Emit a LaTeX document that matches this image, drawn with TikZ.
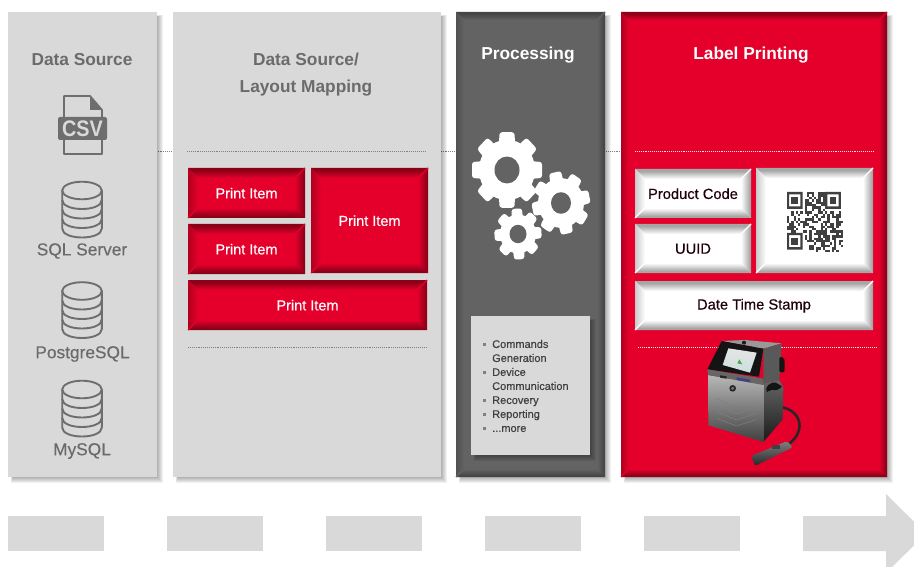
\documentclass[tikz,border=0pt]{standalone}
\usepackage{fontspec}
\setmainfont{Liberation Sans}[UprightFeatures={FakeBold=0.4}]
\usetikzlibrary{calc}
\definecolor{panelgray}{HTML}{D9D9D9}
\definecolor{labelgray}{HTML}{6B6B6B}
\definecolor{iconlinegray}{HTML}{6E6E6E}
\definecolor{brandred}{HTML}{E4002B}
\definecolor{darkred}{HTML}{8C0018}
\definecolor{procgray}{HTML}{636363}
\definecolor{procdark}{HTML}{454545}
\definecolor{bevelwhite}{HTML}{A6A6A6}
\definecolor{inkdark}{HTML}{1E0008}
\colorlet{bevE}{darkred}
\colorlet{bevB}{brandred}
\colorlet{bevS}{brandred}
\pgfdeclareverticalshading[bevE,bevB]{bevtop}{100bp}{color(0bp)=(bevB);color(25bp)=(bevB);color(65bp)=(bevE);color(100bp)=(bevE)}
\pgfdeclareverticalshading[bevE,bevB]{bevbot}{100bp}{color(0bp)=(bevE);color(35bp)=(bevE);color(75bp)=(bevB);color(100bp)=(bevB)}
\pgfdeclarehorizontalshading[bevE,bevB]{bevright}{100bp}{color(0bp)=(bevB);color(25bp)=(bevB);color(70bp)=(bevE);color(100bp)=(bevE)}
\pgfdeclarehorizontalshading[bevS,bevB]{bevleft}{100bp}{color(0bp)=(bevS);color(25bp)=(bevS);color(75bp)=(bevB);color(100bp)=(bevB)}
\tikzset{
  titletext/.style={font=\fontsize{17.3}{27}\selectfont\bfseries,align=center,inner sep=0pt},
  srclabel/.style={font=\fontsize{17.3}{20}\selectfont,text=labelgray,inner sep=0pt},
  itemtext/.style={font=\fontsize{14.5}{17}\selectfont,text=white,inner sep=0pt},
  fieldtext/.style={font=\fontsize{14.7}{17}\selectfont,text=inkdark,inner sep=0pt},
  rulegray/.style={draw=black!50,line width=.8pt,dash pattern=on .9pt off 1pt},
  rulewhite/.style={draw=white!90!brandred,line width=.8pt,dash pattern=on .9pt off 1pt},
  dbline/.style={draw=iconlinegray,line width=1.9pt},
  flow/.style={fill=panelgray,draw=none},
}
% soft shadow falling right and down
\newcommand{\softshadow}[4]{%
  \foreach \s in {0,1,2,3,4,5}{%
    \fill[black,opacity=.055] ({#1+3+\s*.3},{#2+3+\s*.3}) rectangle ({#3+6-\s},{#4+6-\s});
  }}
% bevelled fill: x0 y0 x1 y1 edge base depth
\newcommand{\bevelfill}[7]{%
  \colorlet{bevE}{#5}\colorlet{bevB}{#6}\colorlet{bevS}{#5!60!#6}%
  \fill[#6] (#1,#2) rectangle (#3,#4);
  \shade[shading=bevtop] (#1,#2)--(#3,#2)--({#3-#7},{#2+#7})--({#1+#7},{#2+#7})--cycle;
  \shade[shading=bevbot] (#1,#4)--(#3,#4)--({#3-#7},{#4-#7})--({#1+#7},{#4-#7})--cycle;
  \shade[shading=bevright] (#3,#2)--(#3,#4)--({#3-#7},{#4-#7})--({#3-#7},{#2+#7})--cycle;
  \shade[shading=bevleft] (#1,#2)--(#1,#4)--({#1+#7},{#4-#7})--({#1+#7},{#2+#7})--cycle;
  \draw[#6,line width=1.2pt] (#3,#2)--({#3-#7},{#2+#7});
  \draw[#6,line width=1.2pt] (#1,#4)--({#1+#7},{#4-#7});
}
\newcommand{\itembox}[6]{%
  \bevelfill{#2}{#3}{#4}{#5}{darkred}{brandred}{10}
  \node[itemtext] (#1) at ({(#2+#4)/2},{(#3+#5)/2+.2}) {#6};
}
\newcommand{\fieldbox}[6]{%
  \bevelfill{#2}{#3}{#4}{#5}{bevelwhite}{white}{10}
  \node[fieldtext] (#1) at ({(#2+#4)/2},{(#3+#5)/2+.2}) {#6};
}
\newcommand{\dbicon}[1]{%
  \draw[dbline] (82,{#1+9.5}) ellipse[x radius=19.8pt,y radius=8.8pt];
  \draw[dbline] (62.2,{#1+9.5}) -- (62.2,{#1+47.5}) .. controls (62.2,{#1+59.5}) and (101.8,{#1+59.5}) .. (101.8,{#1+47.5}) -- (101.8,{#1+9.5});
  \foreach \k in {0,9.5,19}{%
    \draw[dbline] (62.2,{#1+9.5+\k+9.5}) .. controls (62.2,{#1+9.5+\k+21.5}) and (101.8,{#1+9.5+\k+21.5}) .. (101.8,{#1+9.5+\k+9.5});
  }}
% gear: cx cy outer body hole toothwidth rotation
\newcommand{\gearicon}[7]{%
  \begin{scope}[shift={(#1,#2)},yscale=1.08]
  \foreach \k in {0,...,7}{%
    \fill[white,rounded corners=2.5pt,rotate=\k*45+#7]
      ({-#6*.62},0) -- ({-#6*.46},{-#3}) -- ({#6*.46},{-#3}) -- ({#6*.62},0) -- cycle;
  }
  \fill[white] (0,0) circle[radius=#4 pt];
  \fill[procgray] (0,0) circle[radius=#5 pt];
  \end{scope}
}
\begin{document}
\begin{tikzpicture}[x=1pt,y=-1pt]
\useasboundingbox (0,0) rectangle (914,567);
\clip (0,0) rectangle (914,567);
\fill[white] (0,0) rectangle (914,567);

% rule running behind the panels
\coordinate (ruleA) at (150,151);
\coordinate (ruleB) at (628,151);
\draw[rulegray] (ruleA) -- (ruleB);

% panels
\softshadow{8}{12}{157}{477}
\softshadow{173}{12}{441}{477}
\softshadow{456}{12}{605}{477}
\softshadow{621}{12}{887}{477}
\fill[panelgray] (8,12) rectangle (157,477);
\fill[panelgray] (173,12) rectangle (441,477);
\bevelfill{456}{12}{605}{477}{procdark}{procgray}{8}
\bevelfill{621}{12}{887}{477}{darkred}{brandred}{8}

% titles
\node[titletext,text=labelgray] (t1) at (82,60) {Data Source};
\node[titletext,text=labelgray] (t2) at (306,74.5) {Data Source/\\Layout Mapping};
\node[titletext,text=white] (t3) at (528,55) {Processing};
\node[titletext,text=white] (t4) at (751,55) {Label Printing};

% CSV icon
\draw[iconlinegray,line width=1.8pt,line join=round] (64,117) -- (64,96) -- (90,96) -- (102,110) -- (102,117);
\draw[iconlinegray,line width=1.8pt,line join=round] (64,140) -- (64,154) -- (102,154) -- (102,140);
\fill[iconlinegray] (90,96) -- (102,110) -- (90,110) -- cycle;
\fill[iconlinegray,rounded corners=2pt] (58,117) rectangle (107,140);
\node[font=\fontsize{22.5}{24}\selectfont\bfseries,text=panelgray,inner sep=0pt] (csv) at (82.5,128.5) {\scalebox{.88}[1]{CSV}};

% databases
\dbicon{181}
\dbicon{281.5}
\dbicon{380}
\node[srclabel] (sql) at (82,251) {SQL Server};
\node[srclabel] (pg) at (82.5,354) {PostgreSQL};
\node[srclabel] (my) at (82,451) {MySQL};

% panel 2
\coordinate (r2a) at (187,151);
\coordinate (r2b) at (425,151);
\coordinate (r2c) at (188,347);
\coordinate (r2d) at (427,347);
\draw[rulegray] (r2a) -- (r2b);
\draw[rulegray] (r2c) -- (r2d);
\itembox{item1}{188}{168}{305}{218}{Print Item}
\itembox{item2}{188}{224}{305}{274}{Print Item}
\itembox{item3}{311}{168}{428}{273}{Print Item}
\itembox{item4}{188}{280}{427}{330}{Print Item}

% gears
\gearicon{507}{170}{35}{28}{12.5}{16}{0}
\gearicon{561}{203}{29}{23}{10}{13}{12}
\gearicon{518}{234}{23.5}{18}{8.5}{11}{3}

% list box
\softshadow{471}{316}{590}{455}
\fill[panelgray] (471,316) rectangle (590,455);
\foreach \py in {344,372,400,414,428}{\fill[black!50] (483,{\py-1.5}) rectangle (486,{\py+1.5});}
\node[anchor=west,align=left,inner sep=0pt,text=black!75,font=\fontsize{11}{14}\selectfont] (list) at (492,386)
  {Commands\\Generation\\Device\\Communication\\Recovery\\Reporting\\...more};

% panel 4
\coordinate (r4a) at (635,151);
\coordinate (r4b) at (873,151);
\coordinate (r4c) at (638,347);
\coordinate (r4d) at (877,347);
\draw[rulewhite] (r4a) -- (r4b);
\draw[rulewhite] (r4c) -- (r4d);
\fieldbox{f1}{635}{169}{751}{218}{Product Code}
\fieldbox{f2}{635}{224}{751}{273}{UUID}
\fieldbox{f3}{635}{281}{873}{330}{Date Time Stamp}
\bevelfill{756}{168}{873}{273}{bevelwhite}{white}{10}

% QR code
\begin{scope}[shift={(787,192)},x=2.24pt,y=-2.4pt]
  \pgfmathsetseed{4711}
  \foreach \r in {0,...,24}{\foreach \c in {0,...,24}{%
    \pgfmathrandominteger{\v}{0}{1}
    \ifnum\v=1 \fill[black!75] (\c,\r) rectangle ({\c+1},{\r+1}); \fi
  }}
  \foreach \a/\b in {0/0,17/0,0/17}{%
    \fill[white] (\a,\b) rectangle ({\a+8},{\b+8});
    \fill[black!75,even odd rule] (\a,\b) rectangle ({\a+7},{\b+7}) ({\a+1},{\b+1}) rectangle ({\a+6},{\b+6});
    \fill[black!75] ({\a+2},{\b+2}) rectangle ({\a+5},{\b+5});
  }
\end{scope}

% printer
\begin{scope}[shift={(700,330)},scale=1/3]
  % cable and head
  \draw[black!85,line width=2.5pt,line cap=round] (248,232) .. controls (285,240) and (305,270) .. (297,300) .. controls (292,320) and (278,335) .. (258,347);
  \shade[top color=black!50,bottom color=black!85,rounded corners=2pt] (153,378) -- (262,333) -- (278,352) -- (165,408) -- cycle;
  \fill[black!75] (215,345) rectangle (240,356);
  % side
  \shade[top color=black!60,bottom color=black!90] (190,160) -- (238,150) -- (250,172) -- (248,268) -- (190,336) -- cycle;
  % front
  \shade[top color=black!28,bottom color=black!75] (24,135) -- (190,163) -- (190,336) -- (25,286) -- cycle;
  \foreach \a/\b in {205/215,225/232,245/250,265/268}{%
    \draw[black!50,line width=.5pt] (50,\a) -- (110,{\b+20}) -- (170,\b);
  }
  % head housing
  \fill[black!40] (65,33) -- (135,30) -- (245,40) -- (190,56) -- cycle;
  \fill[black!65] (190,56) -- (245,40) -- (238,150) -- (190,160) -- cycle;
  \fill[black!92] (65,33) -- (190,56) -- (177,140) -- (22,118) -- cycle;
  \shade[top color=black!10,bottom color=cyan!35!black!20] (85,55) -- (170,68) -- (150,128) -- (68,105) -- cycle;
  \fill[green!50!black!70] (112,100) -- (118,88) -- (127,103) -- cycle;
  \fill[black!90] (132,38) circle[radius=6pt];
  % strip
  \fill[black!60] (22,118) -- (190,146) -- (190,165) -- (24,135) -- cycle;
  \fill[blue!35!black!75] (110,142) -- (150,149) -- (150,157) -- (110,150) -- cycle;
  \fill[black!85] (60,136) -- (80,139) -- (80,146) -- (60,143) -- cycle;
  \fill[black!85] (98,175) circle[radius=10pt];
  \fill[black!55] (98,175) circle[radius=5pt];
  % side fittings
  \fill[black!92,rounded corners=2pt] (238,80) -- (254,84) -- (254,127) -- (238,127) -- cycle;
  \fill[black!92,rounded corners=2pt] (200,168) -- (222,155) -- (248,170) -- (228,182) -- (210,178) -- (205,187) -- (198,185) -- cycle;
\end{scope}

% bottom flow
\fill[flow] (8,516) rectangle (104,551);
\fill[flow] (167,516) rectangle (263,551);
\fill[flow] (326,516) rectangle (422,551);
\fill[flow] (485,516) rectangle (581,551);
\fill[flow] (644,516) rectangle (740,551);
\fill[flow] (803,516) -- (886,516) -- (886,494) -- (926,533.5) -- (886,573) -- (886,551) -- (803,551) -- cycle;
\end{tikzpicture}
\end{document}
